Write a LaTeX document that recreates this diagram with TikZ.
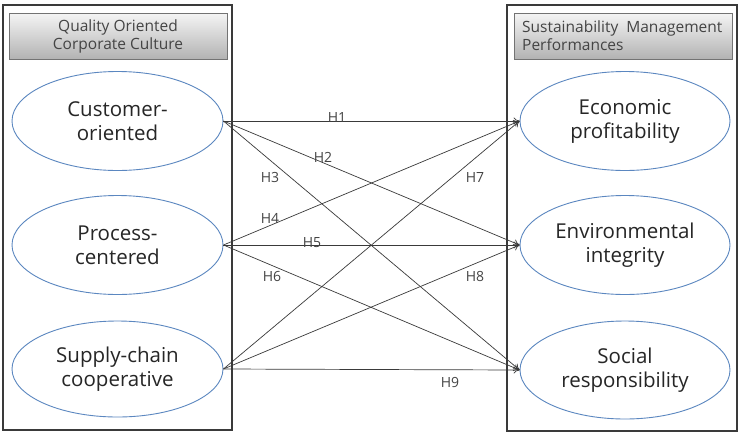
\documentclass[tikz,border=0pt]{standalone}
\usepackage{fontspec}
\setmainfont{Open Sans}
\usetikzlibrary{shapes.geometric,arrows.meta,shadows}
\definecolor{ellblue}{HTML}{5B87C0}
\definecolor{linegray}{HTML}{3A3A3A}
\definecolor{txtgray}{HTML}{444444}
\begin{document}
\begin{tikzpicture}[x=1pt,y=-1pt,
  outerbox/.style={draw=linegray,line width=1.3pt},
  headbox/.style={draw=gray!90!black,line width=0.7pt,top color=gray!8,bottom color=gray!60,
    drop shadow={shadow xshift=1pt,shadow yshift=-1pt,opacity=0.4}},
  headtxt/.style={text=txtgray,font=\fontsize{15.5}{18}\selectfont,inner sep=0pt},
  factor/.style={ellipse,draw=ellblue,line width=0.9pt,minimum width=211pt,minimum height=99pt,
    align=center,font=\fontsize{20.5}{24}\selectfont,text=black!85},
  hyp/.style={draw=linegray,line width=0.7pt,-{To[length=6pt,width=7pt]}},
  hlab/.style={font=\fontsize{14}{16}\selectfont,text=txtgray,inner sep=0pt}]
\path[fill=white,use as bounding box] (0,0) rectangle (746,442);
% outer boxes
\draw[outerbox] (3,5) rectangle (232,430);
\draw[outerbox] (507,5) rectangle (737,431);
% headers
\path[headbox] (9,13) rectangle (227,59);
\path[headbox] (514,13) rectangle (732,59);
\node[headtxt,align=center] (hl) at (118,36) {Quality Oriented\\Corporate Culture};
\node[headtxt,align=left,anchor=west] (hr) at (522,36) {Sustainability\ \ Management\\Performances};
% ellipses
\node[factor] (l1) at (117.5,121) {Customer-\\oriented};
\node[factor] (l2) at (117.5,245) {Process-\\centered};
\node[factor,minimum height=96pt] (l3) at (117.5,369) {Supply-chain\\cooperative};
\node[factor,minimum width=210pt] (r1) at (625,121) {Economic\\profitability};
\node[factor,minimum width=210pt] (r2) at (625,245) {Environmental\\integrity};
\node[factor,minimum width=210pt,minimum height=98pt] (r3) at (625,370) {Social\\responsibility};
% hypotheses
\foreach \a in {l1,l2,l3}{
  \foreach \b in {r1,r2,r3}{
    \draw[hyp] (\a.east) -- (\b.west);
  }
}
\node[hlab] (h1) at (337,117) {H1};
\node[hlab] (h2) at (323,157) {H2};
\node[hlab] (h3) at (270,177) {H3};
\node[hlab] (h4) at (270,218) {H4};
\node[hlab] (h5) at (312,243) {H5};
\node[hlab] (h6) at (272,276) {H6};
\node[hlab] (h7) at (475,177) {H7};
\node[hlab] (h8) at (475,276) {H8};
\node[hlab] (h9) at (450,382) {H9};
\end{tikzpicture}
\end{document}
